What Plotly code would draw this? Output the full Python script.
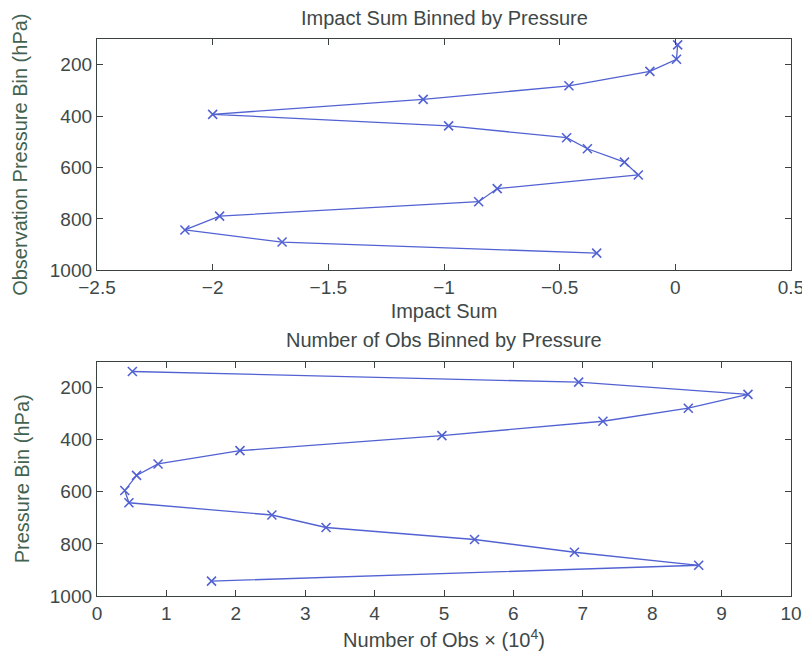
import plotly.graph_objects as go
from plotly.subplots import make_subplots

# Top panel: impact sum by pressure bin
impact_pressure = [123, 179, 226, 282, 335, 393, 438, 484, 527, 579, 629, 682, 733, 789, 843, 890, 933]
impact_sum = [0.01, 0.005, -0.11, -0.46, -1.09, -2.0, -0.98, -0.47, -0.38, -0.22, -0.16,
              -0.77, -0.85, -1.97, -2.12, -1.70, -0.34]

# Bottom panel: number of obs (x 10^4) by pressure bin
obs_pressure = [138, 179, 226, 279, 329, 384, 442, 493, 537, 595, 642, 689, 737, 783, 832, 882, 943]
obs_count = [0.51, 6.94, 9.38, 8.52, 7.29, 4.97, 2.06, 0.88, 0.57, 0.40, 0.46,
             2.52, 3.30, 5.44, 6.88, 8.67, 1.65]

impact_ticks = [-2.5, -2, -1.5, -1, -0.5, 0, 0.5]
impact_ticklabels = ["\u22122.5", "\u22122", "\u22121.5", "\u22121", "\u22120.5", "0", "0.5"]
obs_ticks = list(range(0, 11))
p_ticks = [200, 400, 600, 800, 1000]

LINE = "#5262d2"
TXT = "#3e4848"
YTXT = "#42634f"
AX = "#3a4242"
FONT = "Liberation Sans, Arial, sans-serif"

fig = make_subplots(rows=2, cols=1, vertical_spacing=0.1)

for xs, ys, r in [(impact_sum, impact_pressure, 1), (obs_count, obs_pressure, 2)]:
    fig.add_trace(go.Scatter(x=xs, y=ys, mode="lines+markers",
                             line=dict(color=LINE, width=1.3),
                             marker=dict(symbol="x-thin-open", size=9, color=LINE,
                                         line=dict(color=LINE, width=1.6)),
                             showlegend=False), row=r, col=1)

axcommon = dict(showgrid=False, zeroline=False, showline=True, mirror="ticks",
                linecolor=AX, linewidth=1.3, ticks="inside", ticklen=6,
                tickcolor=AX, automargin=False,
                tickfont=dict(family=FONT, size=19, color=TXT))

fig.update_xaxes(axcommon)
fig.update_yaxes(axcommon)

fig.update_xaxes(row=1, col=1, range=[-2.5, 0.5], tickvals=impact_ticks,
                 ticktext=impact_ticklabels,
                 title=dict(text="Impact Sum", font=dict(family=FONT, size=20, color=TXT), standoff=6))
fig.update_xaxes(row=2, col=1, range=[0, 10], tickvals=obs_ticks,
                 title=dict(text="Number of Obs \u00d7 (10<sup>4</sup>)",
                            font=dict(family=FONT, size=20, color=TXT), standoff=10))
fig.update_yaxes(row=1, col=1, range=[1000, 100], tickvals=p_ticks,
                 title=dict(text="Observation Pressure Bin (hPa)",
                            font=dict(family=FONT, size=20, color=YTXT), standoff=16))
fig.update_yaxes(row=2, col=1, range=[1000, 100], tickvals=p_ticks,
                 title=dict(text="Pressure Bin (hPa)",
                            font=dict(family=FONT, size=20, color=YTXT), standoff=14))

# page body adds an 8px offset; size the figure so it ends at the window edge
fig.update_layout(
    width=802, height=644,
    margin=dict(l=89, r=19, t=31, b=56),
    plot_bgcolor="white", paper_bgcolor="white",
)
fig.layout.yaxis.domain = [0.5847, 1.0]
fig.layout.yaxis2.domain = [0.0, 0.4208]

fig.add_annotation(text="Impact Sum Binned by Pressure", xref="paper", yref="paper",
                   x=0.5, y=1.0, yshift=8, xanchor="center", yanchor="bottom",
                   showarrow=False, font=dict(family=FONT, size=20, color=TXT))
fig.add_annotation(text="Number of Obs Binned by Pressure", xref="paper", yref="paper",
                   x=0.5, y=0.4208, yshift=9, xanchor="center", yanchor="bottom",
                   showarrow=False, font=dict(family=FONT, size=20, color=TXT))

fig.write_html("out.html")
